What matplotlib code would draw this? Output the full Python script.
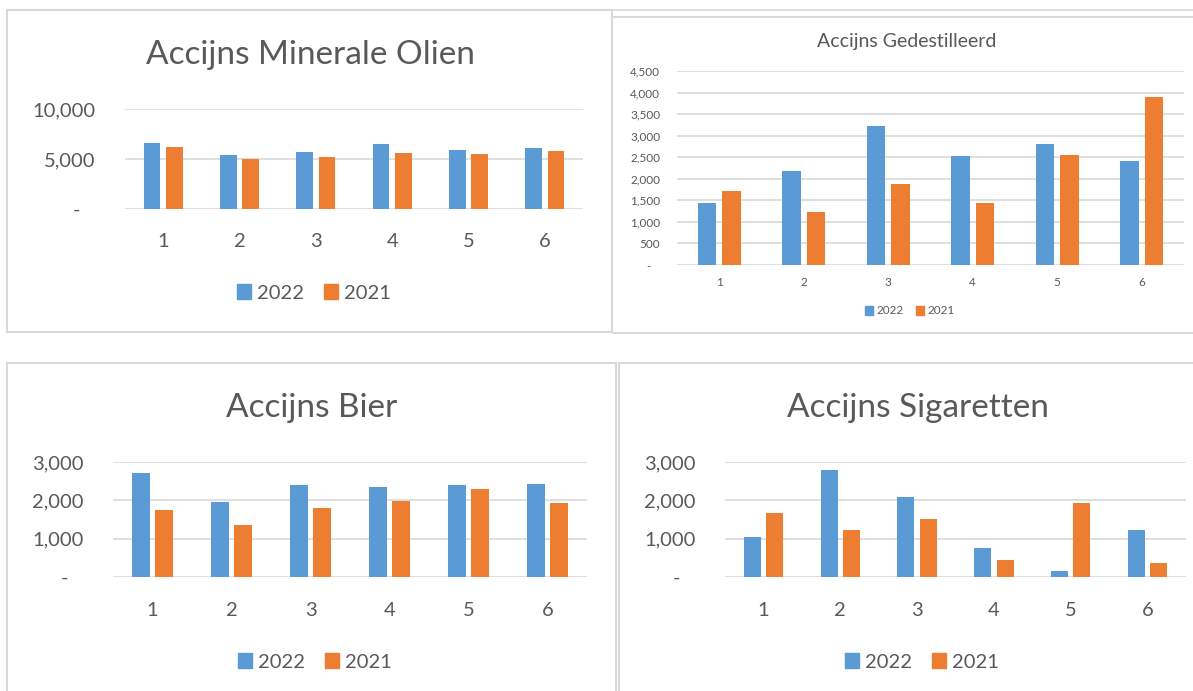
import matplotlib
matplotlib.use("Agg")
import matplotlib.pyplot as plt
import numpy as np
from matplotlib.patches import Rectangle
from matplotlib.lines import Line2D
from matplotlib.ticker import FuncFormatter

plt.rcParams['font.family'] = ['Lato', 'DejaVu Sans']

W, H = 1193, 691
BLUE = '#5B9BD5'
ORANGE = '#ED7D31'
GRID = '#D9D9D9'
TXT = '#595959'

categories = ['1', '2', '3', '4', '5', '6']
series_names = ['2022', '2021']

olien_2022 = [6600, 5350, 5680, 6480, 5880, 6050]
olien_2021 = [6150, 5020, 5150, 5580, 5480, 5750]

gedest_2022 = [1440, 2175, 3230, 2520, 2800, 2420]
gedest_2021 = [1710, 1240, 1890, 1440, 2540, 3900]

bier_2022 = [2710, 1945, 2400, 2350, 2400, 2415]
bier_2021 = [1735, 1360, 1795, 1980, 2285, 1920]

sigaret_2022 = [1050, 2780, 2095, 750, 150, 1215]
sigaret_2021 = [1680, 1215, 1515, 435, 1930, 365]


def px_rect(x0, y0, x1, y1):
    # pixel box (top-left origin) -> figure fraction [left, bottom, width, height]
    return [x0 / W, 1 - y1 / H, (x1 - x0) / W, (y1 - y0) / H]


def fmt(v, pos):
    if v == 0:
        return '-   '
    return f'{v:,.0f}'


def panel(fig, box, title, vals22, vals21, ymax, ystep, title_pos, leg_pos,
          title_fs, tick_fs, xpad, ypad):
    ax = fig.add_axes(px_rect(*box))
    x = np.arange(len(categories))
    ax.bar(x - 0.145, vals22, width=0.22, color=BLUE, zorder=2)
    ax.bar(x + 0.145, vals21, width=0.22, color=ORANGE, zorder=2)
    ax.set_xlim(-0.5, len(categories) - 0.5)
    ax.set_ylim(0, ymax)
    ax.set_yticks(np.arange(0, ymax + 1, ystep))
    ax.yaxis.set_major_formatter(FuncFormatter(fmt))
    ax.set_xticks(x)
    ax.set_xticklabels(categories)
    ax.grid(axis='y', color=GRID, linewidth=1.2, zorder=0)
    ax.set_axisbelow(True)
    for s in ax.spines.values():
        s.set_visible(False)
    ax.tick_params(length=0, labelsize=tick_fs, colors=TXT)
    ax.tick_params(axis='x', pad=xpad)
    ax.tick_params(axis='y', pad=ypad)
    fig.text(title_pos[0] / W, 1 - title_pos[1] / H, title, fontsize=title_fs,
             color=TXT, ha='center', va='center')
    handles = [Rectangle((0, 0), 1, 1, color=BLUE), Rectangle((0, 0), 1, 1, color=ORANGE)]
    fig.legend(handles, series_names, loc='center', ncol=2, frameon=False,
               bbox_to_anchor=(leg_pos[0] / W, 1 - leg_pos[1] / H),
               fontsize=tick_fs, labelcolor=TXT, handlelength=0.7, handleheight=0.7,
               handletextpad=0.3, columnspacing=1.0)
    return ax


fig = plt.figure(figsize=(W / 100, H / 100), dpi=100)

# panel borders
def border(x0, y0, x1, y1):
    fig.add_artist(Rectangle((x0 / W, 1 - y1 / H), (x1 - x0) / W, (y1 - y0) / H,
                             transform=fig.transFigure, fill=False,
                             edgecolor=GRID, linewidth=1.5))

border(7, 10, 612, 332)
border(612, 17, 1200, 333)
fig.add_artist(Line2D([612 / W, 1], [1 - 10 / H] * 2, transform=fig.transFigure,
                      color=GRID, linewidth=1.2))
border(7, 363, 616, 700)
border(619, 363, 1200, 700)

panel(fig, (125, 109, 583, 209), 'Accijns Minerale Olien', olien_2022, olien_2021,
      10000, 5000, (310, 55), (314, 293), 24, 14.5, 17, 21)
panel(fig, (677, 71, 1184, 265), 'Accijns Gedestilleerd', gedest_2022, gedest_2021,
      4500, 500, (907, 42), (910, 311), 14, 8.5, 9, 12)
panel(fig, (113, 462, 587, 577), 'Accijns Bier', bier_2022, bier_2021,
      3000, 1000, (312, 408), (315, 662), 24, 14.5, 18, 21)
panel(fig, (725, 462, 1186, 577), 'Accijns Sigaretten', sigaret_2022, sigaret_2021,
      3000, 1000, (918, 408), (922, 662), 24, 14.5, 18, 21)

fig.savefig('out.png', dpi=100)
